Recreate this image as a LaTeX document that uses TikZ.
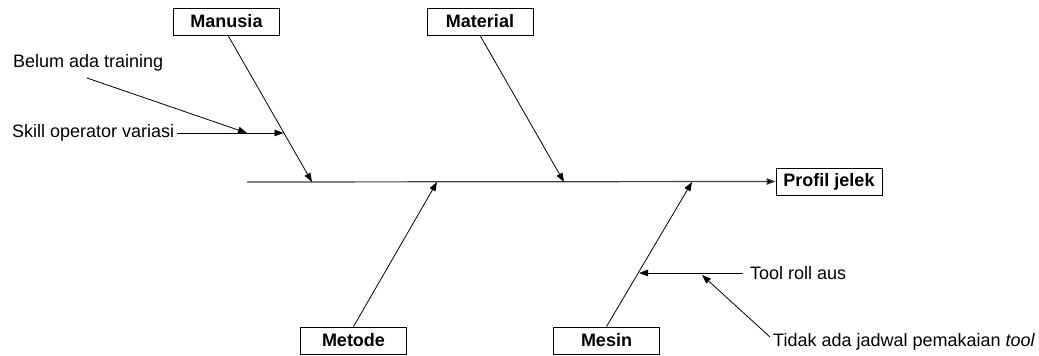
\documentclass[tikz,border=0pt]{standalone}
\usepackage{fontspec}
\setmainfont{Liberation Sans}
\usetikzlibrary{arrows.meta}
\begin{document}
\begin{tikzpicture}[x=1pt,y=-1pt,
  font=\fontsize{18}{21}\selectfont,
  catbox/.style={draw,line width=0.8pt,font=\fontsize{18}{21}\selectfont\bfseries,
    minimum width=106pt,minimum height=27pt,inner sep=0pt},
  cause/.style={inner sep=3pt},
  bone/.style={line width=0.8pt,-{Triangle[length=9pt,width=6.5pt]}},
  spine/.style={line width=1.2pt,draw=black!75,-{Triangle[length=9pt,width=6.5pt,fill=black]}}]
\useasboundingbox (0,0) rectangle (1039,356);

% effect and category boxes
\node[catbox] (profil) at (829,181.5) {Profil jelek};
\node[catbox] (man) at (226.5,21.5) {Manusia};
\node[catbox] (mat) at (480,21.5) {Material};
\node[catbox] (met) at (353.5,340.5) {Metode};
\node[catbox] (mes) at (606.5,340.5) {Mesin};

% sub-causes
\node[cause,anchor=west] (belum) at (10,63) {Belum ada training};
\node[cause,anchor=west] (skill) at (9,133) {Skill operator variasi};
\node[cause,anchor=west] (tool) at (747,273) {Tool roll aus};
\node[cause,anchor=west] (tidak) at (770,342) {Tidak ada jadwal pemakaian \textit{tool}};

% points where the arrows meet the spine and bones
\coordinate (tail) at (247,182);
\coordinate (pman) at (312,182);
\coordinate (pmat) at (564,182);
\coordinate (pmet) at (437,182);
\coordinate (pmes) at (692,182);
\coordinate (pskill) at (283.5,133);
\coordinate (pbelum) at (247,133);
\coordinate (ptool) at (639,273);
\coordinate (ptidak) at (702,275);
\coordinate (sbelum) at (87,78);

% spine
\draw[spine] (tail) -- (profil.west);

% main bones
\draw[bone] ([xshift=1.5pt]man.south) -- (pman);
\draw[bone] (mat.south) -- (pmat);
\draw[bone] (met.north) -- (pmet);
\draw[bone] (mes.north) -- (pmes);

% sub-cause arrows
\draw[bone] (177,133) -- (pskill);
\draw[bone] (sbelum) -- (pbelum);
\draw[bone] (743,273) -- (ptool);
\draw[bone] ([yshift=5pt]tidak.west) -- (ptidak);
\end{tikzpicture}
\end{document}
